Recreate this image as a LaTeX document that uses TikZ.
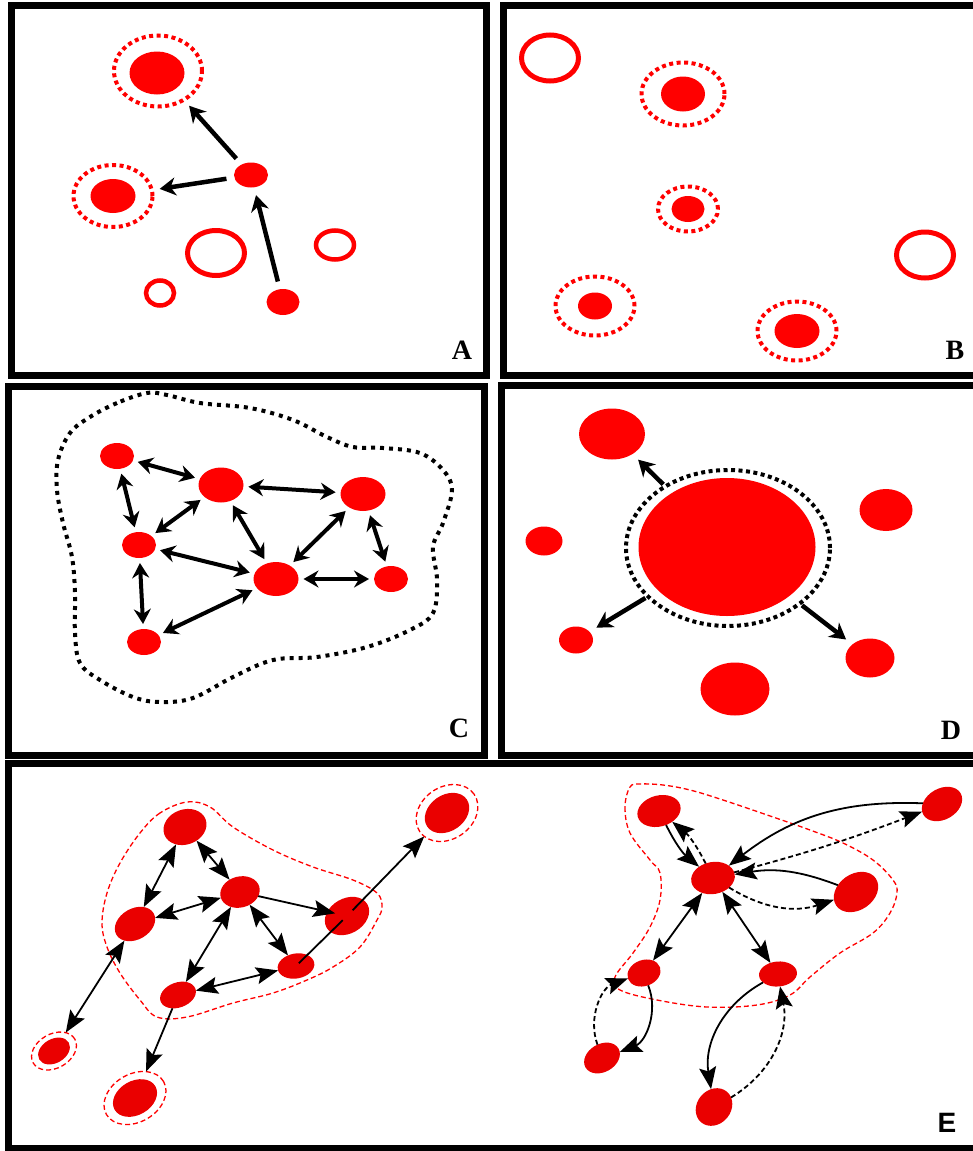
\documentclass[tikz,border=0pt]{standalone}
\usepackage{fontspec}
\setmainfont{Liberation Serif}
\newfontfamily\labelsans{Liberation Sans}
\usetikzlibrary{shapes.geometric,arrows.meta}
\definecolor{blobred}{RGB}{255,0,0}
\definecolor{netred}{RGB}{234,0,0}

\begin{document}
\begin{tikzpicture}[x=1pt,y=-1pt,
  every node/.style={ellipse,inner sep=0pt,outer sep=0pt},
  wh/.style 2 args={minimum width=#1pt,minimum height=#2pt},
  blob/.style={fill=blobred},
  hole/.style={draw=blobred,line width=4.5pt},
  halo/.style={draw=blobred,line width=4pt,dash pattern=on 4pt off 3.5pt},
  panelbox/.style={line width=7pt},
  letter/.style={rectangle,font=\bfseries\fontsize{28}{30}\selectfont},
  bigarrow/.style={line width=4.5pt,arrows={-Stealth[length=16pt,width=18pt,inset=5pt]},shorten <=8pt,shorten >=8pt},
  duoarrow/.style={line width=4pt,arrows={Stealth[length=15pt,width=17pt,inset=5pt]-Stealth[length=15pt,width=17pt,inset=5pt]},shorten <=5pt,shorten >=5pt},
  dotline/.style={line width=4pt,dash pattern=on 4pt off 5pt},
  netblob/.style={fill=netred},
  nethalo/.style={draw=red,line width=1.3pt,dash pattern=on 5pt off 3pt},
  link/.style={line width=1.8pt,arrows={-Stealth[length=22pt,width=17pt,inset=4pt]}},
  blink/.style={line width=1.8pt,arrows={Stealth[length=22pt,width=17pt,inset=4pt]-Stealth[length=22pt,width=17pt,inset=4pt]}},
  dlink/.style={link,dash pattern=on 5pt off 3pt}]
\useasboundingbox (0,0) rectangle (973,1151);
\clip (0,0) rectangle (973,1151);

%% panel A
\draw[panelbox] (11,5.5) rectangle (486,375);
\node[blob,wh={55}{43}] (a1) at (157,73) {};
\node[halo,wh={88}{71}] (a1h) at (158,71) {};
\node[blob,wh={45}{34}] (a2) at (113,196) {};
\node[halo,wh={79}{62}] (a2h) at (113,196) {};
\node[blob,wh={34}{25}] (a3) at (251,175) {};
\node[blob,wh={33}{26}] (a4) at (283,302) {};
\node[hole,line width=5pt,wh={57}{45}] (a5) at (216,253) {};
\node[hole,wh={38}{29}] (a6) at (335,245) {};
\node[hole,wh={28}{25}] (a7) at (160,293) {};
\draw[bigarrow] (a3) -- (a1h);
\draw[bigarrow] (a3) -- (a2h);
\draw[bigarrow] (a4) -- (a3);
\node[letter] (la) at (462,350) {A};

%% panel B
\draw[panelbox] (503,5.5) rectangle (985,375);
\node[hole,line width=5pt,wh={57}{46}] (b1) at (550,58) {};
\node[hole,line width=5pt,wh={57}{46}] (b2) at (925,255) {};
%% filled nodes with their dotted halos
\foreach \n/\x/\y/\w/\h/\hw/\hh in {b3/683/94/44/35/83/63, b4/688/209/33/26/60/45,
    b5/595/306/34/27/79/59, b6/797/331/45/34/79/59}{
  \node[blob,wh={\w}{\h}] (\n) at (\x,\y) {};
  \node[halo,wh={\hw}{\hh}] (\n h) at (\x,\y) {};
}
\node[letter] (lb) at (955,350) {B};

%% panel C
\draw[panelbox] (8,386) rectangle (484,755);
\draw[dotline] plot[smooth cycle,tension=0.6] coordinates {(147,393) (117,403) (90,417) (70,433)
  (58,460) (57,490) (63,523) (72,557) (75,593) (75,633) (80,663) (100,680) (133,697) (160,702)
  (193,698) (233,677) (273,660) (317,657) (367,647) (410,630) (433,613) (437,580) (433,547)
  (443,523) (452,490) (443,470) (420,453) (383,448) (353,447) (327,437) (293,420) (250,408)
  (200,403) (167,395)};
\foreach \n/\x/\y/\w/\h in {c1/117/456/34/26, c2/221/485/45/35, c3/363/494/45/34,
    c4/139/545/34/26, c5/276/579/45/34, c6/391/579/34/26, c7/144/642/34/26}{
  \node[blob,wh={\w}{\h}] (\n) at (\x,\y) {};
}
\foreach \u/\v in {c1/c2,c1/c4,c2/c4,c2/c3,c2/c5,c4/c5,c3/c5,c3/c6,c5/c6,c4/c7,c7/c5}{
  \draw[duoarrow] (\u) -- (\v);
}
\node[letter] (lc) at (459,728) {C};

%% panel D
\draw[panelbox] (501,385) rectangle (985,755);
\node[blob,wh={177}{138}] (d0) at (727,547) {};
\node[dotline,draw,dash pattern=on 4pt off 3.5pt,wh={204}{156}] (d0h) at (728,548) {};
\foreach \n/\x/\y/\w/\h in {d1/612/434/66/51, d2/544/541/37/29, d3/886/510/53/42,
    d4/576/640/34/27, d5/735/689/69/53, d6/870/658/49/39}{
  \node[blob,wh={\w}{\h}] (\n) at (\x,\y) {};
}
\draw[bigarrow,shorten <=3pt] (d0h) -- (d1);
\draw[bigarrow,shorten <=3pt] (d0h) -- (d4);
\draw[bigarrow,shorten <=3pt] (d0h) -- (d6);
\node[letter] (ld) at (951,730) {D};

%% panel E, left network
\draw[panelbox] (8,763.5) rectangle (985,1148);
\draw[nethalo] plot[smooth cycle,tension=0.6] coordinates {(187,802) (160,813) (140,833) (120,863)
  (107,893) (102,923) (107,947) (120,973) (140,1000) (157,1017) (187,1017) (233,1003) (273,993)
  (307,980) (333,967) (360,947) (377,920) (382,907) (377,893) (353,880) (313,867) (273,850)
  (233,827) (210,807)};
\foreach \n/\x/\y/\w/\h/\r in {e1/185/827/44/35/20, e2/240/892/40/31/15, e3/135/924/43/31/30,
    e4/347/916/47/35/30, e5/296/966/37/25/10, e6/178/995/37/25/20, e7/447/813/48/36/35,
    e8/54/1051/34/24/30, e9/135/1098/47/34/30}{
  \node[netblob,rotate=\r,wh={\w}{\h}] (\n) at (\x,\y) {};
}
\node[nethalo,rotate=35,wh={66}{52}] (e7h) at (447,813) {};
\node[nethalo,rotate=30,wh={48}{34}] (e8h) at (54,1051) {};
\node[nethalo,rotate=30,wh={66}{48}] (e9h) at (135,1098) {};
\draw[blink] (e1) -- (e3);
\draw[blink] (e1) -- (e2);
\draw[blink] (e2) -- (e3);
\draw[link,shorten >=-8pt] (e2) -- (e4);
\draw[blink] (e2) -- (e5);
\draw[blink] (e2) -- (e6);
\draw[blink] (e6) -- (e5);
\draw[line width=1.8pt,shorten <=4pt,shorten >=6pt] (e5.center) -- (e4.center);
\draw[link,shorten <=8pt] (e4.center) -- (e7h);
\draw[blink] (e3) -- (e8h);
\draw[link] (e6) -- (e9h);

%% panel E, right network
\draw[nethalo] plot[smooth cycle,tension=0.6] coordinates {(630,787) (625,807) (630,833) (650,860)
  (660,873) (660,900) (650,927) (633,953) (615,977) (620,990) (657,1000) (707,1007) (757,1005)
  (790,995) (810,977) (840,953) (873,933) (890,913) (897,893) (893,880) (873,860) (843,843)
  (810,830) (773,817) (723,800) (690,790) (663,785) (640,784)};
\foreach \n/\x/\y/\w/\h/\r in {f1/659/811/44/31/15, f2/713/878/44/32/10, f3/942/804/43/31/30,
    f4/856/892/48/36/35, f5/644/973/34/26/20, f6/778/974/38/25/5, f7/602/1058/38/28/30,
    f8/714/1107/40/34/50}{
  \node[netblob,rotate=\r,wh={\w}{\h}] (\n) at (\x,\y) {};
}
\draw[link] (f1) to[bend right=12] (f2);
\draw[dlink] (f2) to[bend right=12] (f1);
\draw[link] (f3) to[bend right=20] (f2);
\draw[dlink] (f2) to[bend right=3] (f3);
\draw[link] (f4) to[bend right=15] (f2);
\draw[dlink] (f2) to[bend right=25] (f4);
\draw[blink] (f2) -- (f5);
\draw[blink] (f2) -- (f6);
\draw[link] (f5) to[bend left=45] (f7);
\draw[dlink] (f7) to[bend left=45] (f5);
\draw[link] (f6) to[bend right=35] (f8);
\draw[dlink] (f8) to[bend right=35] (f6);
\node[letter,font=\labelsans\bfseries\fontsize{28}{30}\selectfont] (le) at (947,1123) {E};
\end{tikzpicture}
\end{document}
